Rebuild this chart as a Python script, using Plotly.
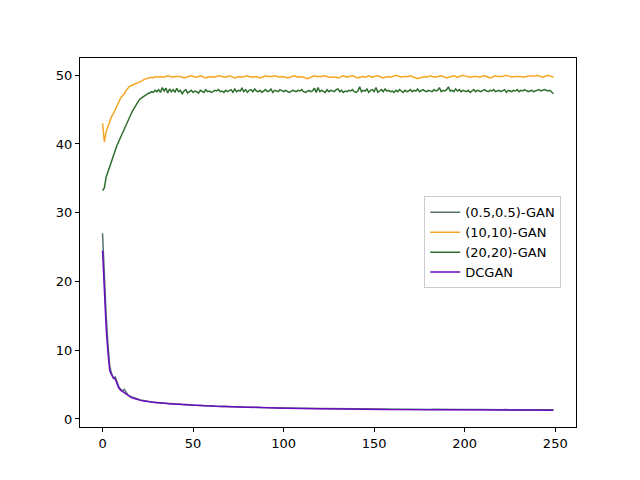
import plotly.graph_objects as go

# epochs 0..249
epochs = list(range(250))

gan_05 = [
    27.0, 20.5, 15.0, 10.8, 7.6, 6.6, 5.9, 6.1, 5.3, 4.7,
    4.3, 4.1, 4.3, 3.8, 3.5, 3.3, 3.2, 3.1, 2.95, 2.9,
    2.8, 2.75, 2.72, 2.65, 2.6, 2.55, 2.52, 2.48, 2.45, 2.4,
    2.38, 2.36, 2.33, 2.30, 2.32, 2.27, 2.24, 2.22, 2.25, 2.20,
    2.17, 2.15, 2.18, 2.13, 2.10, 2.08, 2.11, 2.06, 2.04, 2.05,
    2.02, 2.00, 1.98, 2.01, 1.96, 1.95, 1.93, 1.95, 1.91, 1.90,
    1.88, 1.89, 1.86, 1.85, 1.86, 1.83, 1.82, 1.83, 1.80, 1.79,
    1.80, 1.78, 1.77, 1.76, 1.77, 1.75, 1.74, 1.73, 1.74, 1.72,
    1.71, 1.72, 1.70, 1.69, 1.70, 1.68, 1.67, 1.68, 1.66, 1.65,
    1.66, 1.64, 1.63, 1.64, 1.62, 1.61, 1.62, 1.60, 1.59, 1.60,
    1.58, 1.59, 1.57, 1.58, 1.57, 1.56, 1.57, 1.56, 1.55, 1.56,
    1.55, 1.56, 1.55, 1.54, 1.55, 1.54, 1.53, 1.54, 1.53, 1.54,
    1.53, 1.54, 1.52, 1.53, 1.52, 1.51, 1.52, 1.51, 1.50, 1.51,
    1.50, 1.49, 1.50, 1.49, 1.48, 1.49, 1.48, 1.49, 1.48, 1.47,
    1.48, 1.47, 1.46, 1.47, 1.46, 1.47, 1.46, 1.45, 1.46, 1.45,
    1.45, 1.44, 1.45, 1.44, 1.45, 1.44, 1.43, 1.44, 1.43, 1.44,
    1.43, 1.42, 1.43, 1.42, 1.43, 1.42, 1.41, 1.42, 1.41, 1.42,
    1.41, 1.42, 1.41, 1.40, 1.41, 1.40, 1.41, 1.40, 1.41, 1.40,
    1.40, 1.39, 1.40, 1.39, 1.40, 1.39, 1.40, 1.39, 1.38, 1.39,
    1.38, 1.39, 1.38, 1.39, 1.38, 1.37, 1.38, 1.37, 1.38, 1.37,
    1.38, 1.37, 1.38, 1.37, 1.36, 1.37, 1.36, 1.37, 1.36, 1.37,
    1.36, 1.37, 1.36, 1.35, 1.36, 1.35, 1.36, 1.35, 1.36, 1.35,
    1.36, 1.35, 1.36, 1.35, 1.34, 1.35, 1.34, 1.35, 1.34, 1.35,
    1.34, 1.35, 1.34, 1.35, 1.34, 1.33, 1.34, 1.33, 1.34, 1.33,
    1.34, 1.33, 1.34, 1.33, 1.34, 1.33, 1.34, 1.33, 1.34, 1.33,
]

gan_10 = [
    43.0, 40.3, 41.8, 42.6, 43.3, 44.0, 44.4, 45.0, 45.6, 46.2,
    46.7, 47.0, 47.3, 47.8, 48.1, 48.4, 48.5, 48.6, 48.8, 48.9,
    49.0, 49.1, 49.2, 49.4, 49.5, 49.6, 49.7, 49.7, 49.6, 49.8,
    49.7, 49.8, 49.8, 49.7, 49.7, 49.8, 49.9, 49.8, 49.7, 49.7,
    49.8, 49.8, 49.9, 49.8, 49.7, 49.6, 49.7, 49.8, 49.8, 49.9,
    49.8, 49.7, 49.7, 49.8, 49.9, 49.8, 49.7, 49.6, 49.7, 49.8,
    49.8, 49.7, 49.7, 49.8, 49.9, 49.9, 49.8, 49.7, 49.7, 49.8,
    49.9, 49.8, 49.7, 49.6, 49.7, 49.8, 49.8, 49.7, 49.8, 49.9,
    49.9, 49.8, 49.7, 49.7, 49.8, 49.8, 49.7, 49.6, 49.7, 49.8,
    49.9, 49.8, 49.8, 49.7, 49.8, 49.9, 49.8, 49.7, 49.7, 49.8,
    49.8, 49.7, 49.6, 49.7, 49.8, 49.8, 49.9, 49.8, 49.7, 49.8,
    49.8, 49.7, 49.6, 49.5, 49.6, 49.7, 49.8, 49.9, 49.8, 49.8,
    49.7, 49.8, 49.9, 49.9, 49.8, 49.7, 49.7, 49.8, 49.8, 49.7,
    49.6, 49.7, 49.8, 49.9, 49.8, 49.7, 49.8, 49.9, 49.9, 49.8,
    49.7, 49.6, 49.7, 49.8, 49.8, 49.7, 49.8, 49.9, 49.8, 49.7,
    49.8, 49.9, 49.9, 49.8, 49.7, 49.6, 49.7, 49.8, 49.8, 49.7,
    49.8, 49.9, 50.0, 49.9, 49.8, 49.7, 49.8, 49.8, 49.7, 49.8,
    49.9, 49.8, 49.7, 49.6, 49.5, 49.6, 49.7, 49.8, 49.8, 49.7,
    49.8, 49.9, 49.8, 49.7, 49.7, 49.8, 49.9, 49.9, 49.8, 49.7,
    49.6, 49.7, 49.8, 49.8, 49.9, 49.8, 49.7, 49.8, 49.9, 50.0,
    49.9, 49.8, 49.7, 49.7, 49.8, 49.8, 49.9, 49.8, 49.7, 49.8,
    49.9, 49.9, 49.8, 49.7, 49.6, 49.7, 49.8, 49.9, 49.8, 49.8,
    49.7, 49.8, 49.9, 50.0, 49.9, 49.8, 49.7, 49.8, 49.8, 49.9,
    49.9, 49.8, 49.7, 49.7, 49.8, 49.9, 49.9, 49.8, 49.8, 49.9,
    50.0, 49.9, 49.8, 49.7, 49.8, 49.9, 50.0, 49.9, 49.8, 49.7,
]

gan_20 = [
    33.2, 33.6, 35.2, 36.0, 36.8, 37.6, 38.4, 39.1, 39.8, 40.4,
    41.0, 41.7, 42.3, 42.9, 43.5, 44.0, 44.5, 45.0, 45.5, 45.9,
    46.3, 46.6, 46.8, 47.0, 47.1, 47.3, 47.4, 47.6, 47.5, 47.8,
    47.6, 47.9, 47.5, 48.2, 47.7, 48.1, 47.4, 48.0, 47.6, 47.9,
    47.5, 48.1, 47.6, 47.8, 47.3, 47.7, 47.9, 47.4, 47.6, 47.8,
    47.5, 47.7, 47.6, 47.4, 47.8, 47.7, 47.5, 47.9, 47.6, 47.7,
    47.5, 47.6, 47.8, 47.7, 47.9, 47.6, 47.7, 47.5, 47.8, 47.6,
    47.7, 47.9, 47.5, 48.0, 47.6, 47.8, 47.7, 48.1, 47.6, 47.9,
    47.5, 47.8, 47.9, 47.6, 48.0, 47.7, 47.6, 47.8, 47.5, 47.7,
    47.9, 47.6, 47.7, 48.0, 47.5, 47.8, 47.7, 47.6, 47.9, 47.7,
    47.6, 47.8, 47.7, 47.5, 47.6, 47.8, 47.7, 47.6, 47.8, 47.7,
    47.9, 47.6, 47.5, 47.7, 47.8, 47.6, 47.7, 48.1, 47.5, 48.2,
    47.6, 47.8, 47.7, 47.5, 47.9, 47.6, 47.8, 47.7, 47.6, 47.9,
    48.0, 47.6, 47.8, 47.5, 47.7, 47.6, 47.8, 47.7, 47.9, 47.6,
    47.5, 47.7, 48.3, 47.6, 47.8, 47.7, 48.0, 47.5, 47.8, 47.9,
    47.6, 48.2, 47.5, 47.7, 47.9, 47.6, 48.0, 47.7, 47.8, 47.6,
    47.7, 47.5, 47.8, 47.6, 47.9, 47.7, 47.5, 47.8, 47.6, 47.7,
    47.9, 47.6, 47.8, 47.7, 48.0, 47.6, 47.8, 47.9, 47.7, 47.6,
    47.8, 47.7, 47.6, 47.9, 47.7, 47.8, 48.2, 47.6, 47.8, 47.7,
    47.9, 48.3, 47.7, 47.8, 47.6, 48.0, 47.7, 47.9, 47.6, 47.8,
    47.7, 47.6, 47.8, 47.5, 47.7, 47.9, 47.6, 47.8, 47.7, 47.6,
    47.8, 47.9, 47.7, 47.6, 47.8, 47.7, 47.9, 47.6, 47.7, 47.8,
    47.6, 47.7, 47.9, 47.5, 47.8, 47.7, 47.6, 47.8, 47.7, 47.9,
    47.6, 47.8, 47.7, 47.9, 47.8, 47.6, 47.7, 47.8, 47.6, 47.7,
    47.8, 47.9, 47.7, 47.8, 47.9, 47.8, 47.7, 47.8, 47.6, 47.3,
]

dcgan = [
    24.5, 18.5, 13.2, 9.6, 7.0, 6.4, 6.0, 5.8, 5.0, 4.5,
    4.2, 4.0, 3.8, 3.6, 3.4, 3.25, 3.1, 3.0, 2.9, 2.85,
    2.75, 2.7, 2.65, 2.6, 2.55, 2.5, 2.48, 2.44, 2.42, 2.38,
    2.36, 2.34, 2.31, 2.29, 2.30, 2.25, 2.23, 2.21, 2.22, 2.18,
    2.16, 2.14, 2.15, 2.11, 2.09, 2.07, 2.09, 2.05, 2.03, 2.03,
    2.01, 1.99, 1.97, 1.98, 1.95, 1.94, 1.92, 1.93, 1.90, 1.89,
    1.87, 1.87, 1.85, 1.84, 1.84, 1.82, 1.81, 1.81, 1.79, 1.78,
    1.78, 1.77, 1.76, 1.75, 1.75, 1.74, 1.73, 1.72, 1.72, 1.71,
    1.70, 1.70, 1.69, 1.68, 1.68, 1.67, 1.66, 1.66, 1.65, 1.64,
    1.64, 1.63, 1.62, 1.62, 1.61, 1.60, 1.60, 1.59, 1.58, 1.58,
    1.57, 1.57, 1.56, 1.56, 1.55, 1.55, 1.54, 1.54, 1.53, 1.53,
    1.53, 1.52, 1.52, 1.51, 1.51, 1.51, 1.50, 1.50, 1.50, 1.49,
    1.49, 1.49, 1.48, 1.48, 1.48, 1.47, 1.47, 1.47, 1.46, 1.46,
    1.46, 1.45, 1.45, 1.45, 1.44, 1.44, 1.44, 1.43, 1.43, 1.43,
    1.43, 1.42, 1.42, 1.42, 1.42, 1.41, 1.41, 1.41, 1.41, 1.40,
    1.40, 1.40, 1.40, 1.39, 1.39, 1.39, 1.39, 1.38, 1.38, 1.38,
    1.38, 1.38, 1.37, 1.37, 1.37, 1.37, 1.37, 1.36, 1.36, 1.36,
    1.36, 1.36, 1.35, 1.35, 1.35, 1.35, 1.35, 1.35, 1.34, 1.34,
    1.34, 1.34, 1.34, 1.34, 1.33, 1.33, 1.33, 1.33, 1.33, 1.33,
    1.33, 1.32, 1.32, 1.32, 1.32, 1.32, 1.32, 1.32, 1.31, 1.31,
    1.31, 1.31, 1.31, 1.31, 1.31, 1.31, 1.30, 1.30, 1.30, 1.30,
    1.30, 1.30, 1.30, 1.30, 1.30, 1.29, 1.29, 1.29, 1.29, 1.29,
    1.29, 1.29, 1.29, 1.29, 1.29, 1.29, 1.28, 1.28, 1.28, 1.28,
    1.28, 1.28, 1.28, 1.28, 1.28, 1.28, 1.28, 1.28, 1.27, 1.27,
    1.27, 1.27, 1.27, 1.27, 1.27, 1.27, 1.27, 1.27, 1.27, 1.27,
]

series = [
    ("(0.5,0.5)-GAN", gan_05, "#567373"),
    ("(10,10)-GAN", gan_10, "#f5a623"),
    ("(20,20)-GAN", gan_20, "#2e6e2e"),
    ("DCGAN", dcgan, "#6a0dc0"),
]

fig = go.Figure()
for name, vals, color in series:
    fig.add_trace(go.Scatter(
        x=epochs, y=vals, mode="lines", name=name,
        line=dict(color=color, width=1.5),
    ))

axis_style = dict(
    showgrid=False, zeroline=False, showline=True, mirror=True,
    linecolor="black", linewidth=1, ticks="outside", ticklen=4,
    tickcolor="black", tickfont=dict(size=13, color="black"),
)

# page body has an 8px margin, so pull the plot area up/left to compensate
fig.update_layout(
    width=640, height=480,
    margin=dict(l=72, r=72, t=50, b=61),
    plot_bgcolor="white", paper_bgcolor="white",
    font=dict(family="DejaVu Sans", size=13, color="black"),
    xaxis=dict(range=[-12.45, 261.45], tickvals=[0, 50, 100, 150, 200, 250], **axis_style),
    yaxis=dict(range=[-1.17, 52.5], tickvals=[0, 10, 20, 30, 40, 50], **axis_style),
    legend=dict(
        x=0.694, y=0.625, xanchor="left", yanchor="top",
        bgcolor="rgba(255,255,255,0.8)", bordercolor="#cccccc", borderwidth=1,
        font=dict(size=13), tracegroupgap=0,
    ),
    showlegend=True,
)

fig.write_html("out.html")
